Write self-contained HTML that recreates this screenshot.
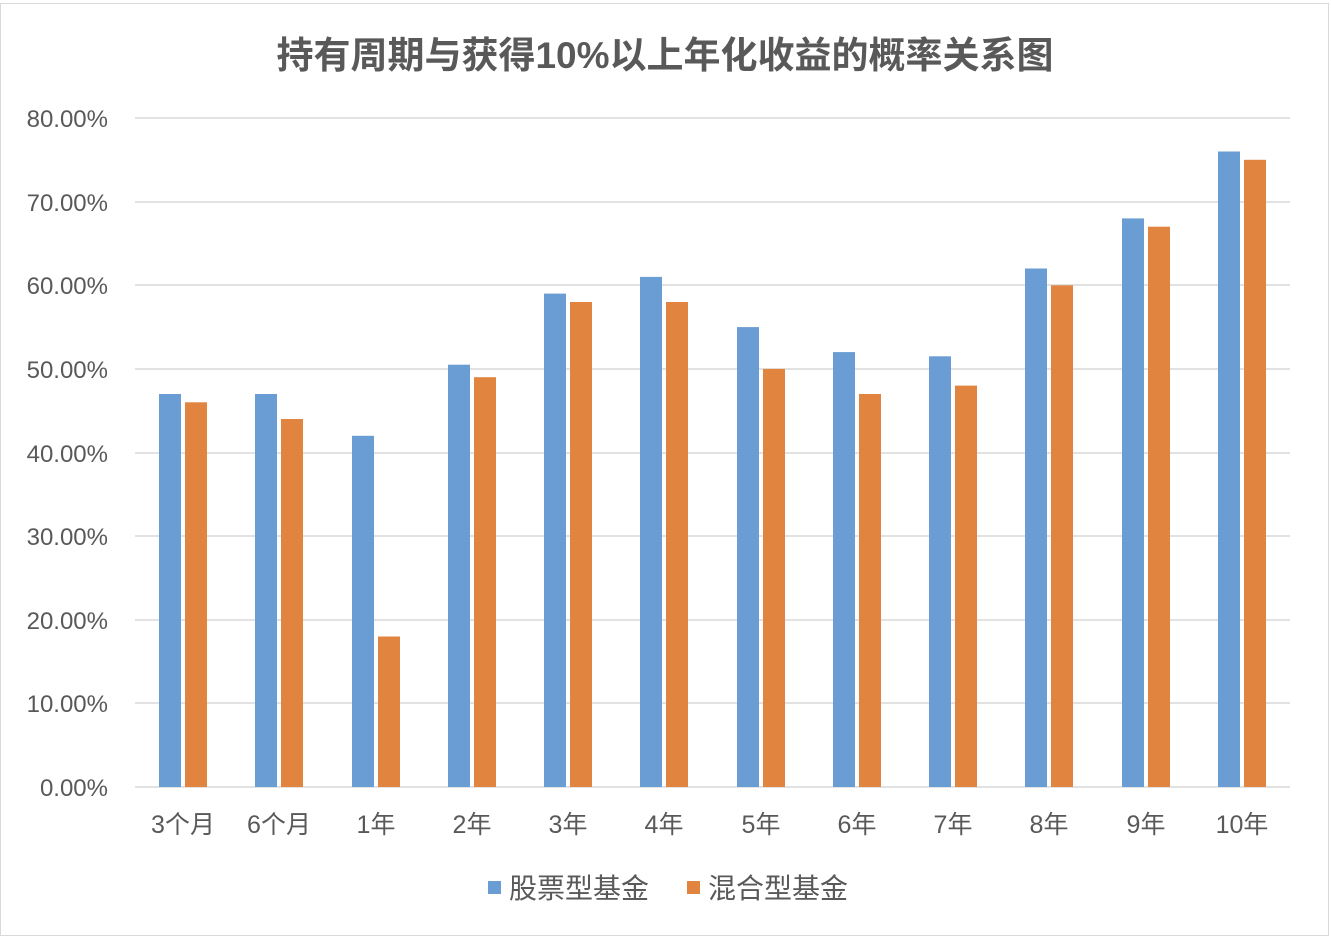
<!DOCTYPE html>
<html><head><meta charset="utf-8"><style>
body{margin:0;background:#fff;}
svg{display:block;font-family:"Liberation Sans","Noto Sans CJK SC",sans-serif;}
</style></head><body>
<svg width="1331" height="937" viewBox="0 0 1331 937">
<rect x="0.5" y="3.5" width="1328" height="932" fill="#fff" stroke="#d9d9d9"/>
<text x="665" y="68" text-anchor="middle" font-size="37" font-weight="bold" fill="#595959">持有周期与获得10%以上年化收益的概率关系图</text>
<g stroke="#d9d9d9" stroke-width="1.5">
<line x1="135" x2="1290" y1="118" y2="118"/><line x1="135" x2="1290" y1="202" y2="202"/>
<line x1="135" x2="1290" y1="285" y2="285"/><line x1="135" x2="1290" y1="369" y2="369"/>
<line x1="135" x2="1290" y1="453" y2="453"/><line x1="135" x2="1290" y1="536" y2="536"/>
<line x1="135" x2="1290" y1="620" y2="620"/><line x1="135" x2="1290" y1="703" y2="703"/>
<line x1="135" x2="1290" y1="787" y2="787"/>
</g>
<g font-size="24" fill="#595959" text-anchor="end">
<text x="108" y="127">80.00%</text><text x="108" y="211">70.00%</text><text x="108" y="294">60.00%</text>
<text x="108" y="378">50.00%</text><text x="108" y="462">40.00%</text><text x="108" y="545">30.00%</text>
<text x="108" y="629">20.00%</text><text x="108" y="712">10.00%</text><text x="108" y="796">0.00%</text>
</g>
<g fill="#6a9dd3">
<rect x="159" y="394" width="22" height="393"/>
<rect x="255" y="394" width="22" height="393"/>
<rect x="352" y="435.8" width="22" height="351.2"/>
<rect x="448" y="364.7" width="22" height="422.3"/>
<rect x="544" y="293.6" width="22" height="493.4"/>
<rect x="640" y="276.9" width="22" height="510.1"/>
<rect x="737" y="327.1" width="22" height="459.9"/>
<rect x="833" y="352.1" width="22" height="434.9"/>
<rect x="929" y="356.3" width="22" height="430.7"/>
<rect x="1025" y="268.5" width="22" height="518.5"/>
<rect x="1122" y="218.4" width="22" height="568.6"/>
<rect x="1218" y="151.5" width="22" height="635.5"/>
</g>
<g fill="#e0843f">
<rect x="185" y="402.3" width="22" height="384.7"/>
<rect x="281" y="419" width="22" height="368"/>
<rect x="378" y="636.5" width="22" height="150.5"/>
<rect x="474" y="377.2" width="22" height="409.8"/>
<rect x="570" y="302" width="22" height="485"/>
<rect x="666" y="302" width="22" height="485"/>
<rect x="763" y="368.9" width="22" height="418.1"/>
<rect x="859" y="394" width="22" height="393"/>
<rect x="955" y="385.6" width="22" height="401.4"/>
<rect x="1051" y="285.3" width="22" height="501.7"/>
<rect x="1148" y="226.7" width="22" height="560.3"/>
<rect x="1244" y="159.8" width="22" height="627.2"/>
</g>
<g font-size="25" fill="#595959" text-anchor="middle">
<text x="183" y="833">3个月</text><text x="279" y="833">6个月</text><text x="376" y="833">1年</text>
<text x="472" y="833">2年</text><text x="568" y="833">3年</text><text x="664" y="833">4年</text>
<text x="761" y="833">5年</text><text x="857" y="833">6年</text><text x="953" y="833">7年</text>
<text x="1049" y="833">8年</text><text x="1146" y="833">9年</text><text x="1242" y="833">10年</text>
</g>
<rect x="488" y="881" width="13" height="13" fill="#6a9dd3"/>
<text x="509" y="898" font-size="28" fill="#595959">股票型基金</text>
<rect x="687" y="881" width="13" height="13" fill="#e0843f"/>
<text x="708" y="898" font-size="28" fill="#595959">混合型基金</text>
</svg>
</body></html>
